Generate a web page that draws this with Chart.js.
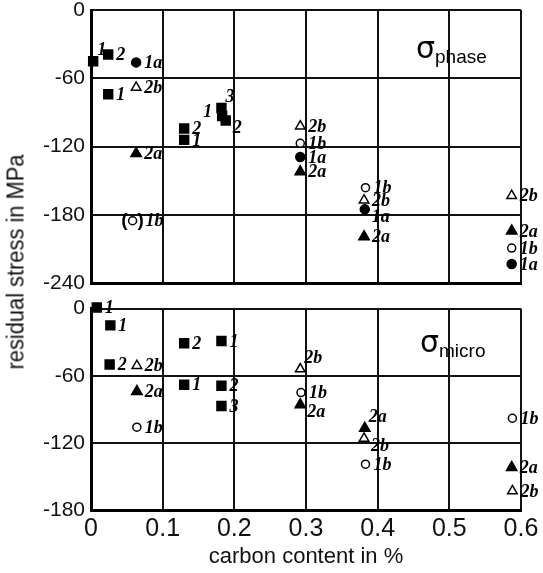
<!DOCTYPE html>
<html lang="en">
<head>
<meta charset="UTF-8">
<title>Residual stress vs carbon content</title>
<script src="https://cdn.jsdelivr.net/npm/chart.js"></script>
<style>
  body { margin: 0; background: #fff; }
  #wrap { position: relative; width: 543px; height: 573px; overflow: hidden; }
  #topChart { position: absolute; left: 0; top: -12px; }
  #botChart { position: absolute; left: 0; top: 290px; }
  #ytitle {
    position: absolute; left: 16px; top: 262px;
    transform: translate(-50%, -50%) rotate(-90deg) scaleX(0.95);
    white-space: nowrap; font: 23px 'Liberation Sans Narrow', 'Liberation Sans', Arial, sans-serif; color: #111;
  }
</style>
</head>
<body>
<div id="wrap">
  <canvas id="topChart" width="543" height="314"></canvas>
  <canvas id="botChart" width="543" height="283"></canvas>
  <div id="ytitle">residual stress in MPa</div>
</div>
<script>
// ---- sigma_phase (upper panel) ----
const phSqX = [0.003, 0.024, 0.024, 0.13, 0.13, 0.182, 0.183, 0.188];
const phSqY = [-45, -39, -74, -104, -114, -86, -93, -97];
const phSqL = ['1', '2', '1', '2', '1', '3', '1', '2'];
const phSqP = ['ur', 'r', 'r', 'r', 'r', 'ur', 'l', 'dr'];

const phDotX = [0.063, 0.292, 0.382, 0.587];
const phDotY = [-46, -129, -175, -223];
const phDotL = ['1a', '1a', '1a', '1a'];
const phDotP = ['r', 'r', 'dr', 'r'];

const phRingX = [0.058, 0.292, 0.383, 0.587];
const phRingY = [-185, -117, -156, -209];
const phRingL = ['1b', '1b', '1b', '1b'];
const phRingP = ['paren', 'r', 'r', 'r'];

const phTriX = [0.063, 0.292, 0.381, 0.587];
const phTriY = [-126, -142, -199, -194];
const phTriL = ['2a', '2a', '2a', '2a'];
const phTriP = ['r', 'r', 'r', 'r'];

const phOTriX = [0.063, 0.292, 0.381, 0.587];
const phOTriY = [-68, -102, -167, -163];
const phOTriL = ['2b', '2b', '2b', '2b'];
const phOTriP = ['r', 'r', 'r', 'r'];

// ---- sigma_micro (lower panel) ----
const miSqX = [0.008, 0.027, 0.026, 0.13, 0.13, 0.182, 0.182, 0.182];
const miSqY = [1, -15, -50, -31, -68, -29, -69, -87];
const miSqL = ['1', '1', '2', '2', '1', '1', '2', '3'];
const miSqP = ['r', 'r', 'r', 'r', 'r', 'r', 'r', 'r'];

const miTriX = [0.064, 0.292, 0.382, 0.587];
const miTriY = [-74, -86, -107, -142];
const miTriL = ['2a', '2a', '2a', '2a'];
const miTriP = ['r', 'dr', 'ur', 'r'];

const miOTriX = [0.064, 0.292, 0.381, 0.588];
const miOTriY = [-51, -54, -116, -163];
const miOTriL = ['2b', '2b', '2b', '2b'];
const miOTriP = ['r', 'ur', 'dr', 'r'];

const miRingX = [0.064, 0.293, 0.383, 0.588];
const miRingY = [-106, -75, -139, -98];
const miRingL = ['1b', '1b', '1b', '1b'];
const miRingP = ['r', 'r', 'r', 'r'];

const xTicks = [0, 0.1, 0.2, 0.3, 0.4, 0.5, 0.6];

const tickFont = "'Liberation Sans Narrow', 'Liberation Sans', Arial, sans-serif";

function pts(xs, ys) {
  return xs.map((x, i) => ({ x: x, y: ys[i] }));
}

function ds(xs, ys, lbls, place, style) {
  const d = {
    data: pts(xs, ys),
    ptLabels: lbls,
    ptPlace: place,
    showLine: false,
    clip: false,
    pointStyle: style,
    pointBorderColor: '#000',
    pointBorderWidth: 1.5,
    pointHoverRadius: 0
  };
  if (style === 'rect') { d.pointRadius = 6.3; d.pointBackgroundColor = '#000'; }
  else if (style === 'dot') { d.pointStyle = 'circle'; d.pointRadius = 4.5; d.pointBackgroundColor = '#000'; }
  else if (style === 'ring') { d.pointStyle = 'circle'; d.pointRadius = 4; d.pointBackgroundColor = '#fff'; }
  else if (style === 'tri') { d.pointStyle = 'triangle'; d.pointRadius = 6; d.pointBackgroundColor = '#000'; }
  else if (style === 'otri') { d.pointStyle = 'triangle'; d.pointRadius = 5.5; d.pointBackgroundColor = '#fff'; }
  return d;
}

// labels next to each marker
const pointLabels = {
  id: 'pointLabels',
  afterDatasetsDraw(chart) {
    const ctx = chart.ctx;
    ctx.save();
    ctx.fillStyle = '#000';
    ctx.textBaseline = 'middle';
    chart.data.datasets.forEach((d, di) => {
      const meta = chart.getDatasetMeta(di);
      meta.data.forEach((el, i) => {
        const t = d.ptLabels[i];
        const p = d.ptPlace[i];
        let dx = 8, dy = 1, align = 'left';
        if (p === 'ur') { dx = 4; dy = -11; }
        if (p === 'dr') { dx = 7; dy = 8; }
        if (p === 'l') { dx = -10; dy = -4; align = 'right'; }
        if (p === 'paren') {
          ctx.font = "bold 19px 'Liberation Sans', Arial, sans-serif";
          ctx.textAlign = 'right';
          ctx.fillText('(', el.x - 5, el.y);
          ctx.textAlign = 'left';
          ctx.fillText(')', el.x + 5, el.y);
          dx = 13;
        }
        ctx.font = "italic bold 18px 'Liberation Serif', serif";
        ctx.textAlign = align;
        ctx.fillText(t, el.x + dx, el.y + dy);
      });
    });
    ctx.restore();
  }
};

// sigma with subscript inside each panel
const panelTitle = {
  id: 'panelTitle',
  afterDraw(chart, args, opts) {
    if (!opts.sub) return;
    const ctx = chart.ctx, a = chart.chartArea;
    ctx.save();
    ctx.fillStyle = '#000';
    ctx.textBaseline = 'alphabetic';
    ctx.textAlign = 'left';
    ctx.font = "30px 'DejaVu Sans', sans-serif";
    const x = a.left + opts.dx, y = a.top + opts.dy;
    ctx.fillText('σ', x, y);
    const w = ctx.measureText('σ').width;
    ctx.font = "19px " + tickFont;
    ctx.fillText(opts.sub, x + w, y + 5);
    ctx.restore();
  }
};

function makeChart(id, sets, yMin, yMax, pad, showX, title) {
  return new Chart(document.getElementById(id), {
    type: 'scatter',
    data: { datasets: sets },
    plugins: [pointLabels, panelTitle],
    options: {
      responsive: false,
      animation: false,
      events: [],
      layout: { padding: pad },
      plugins: {
        legend: { display: false },
        tooltip: { enabled: false },
        panelTitle: title
      },
      scales: {
        x: {
          type: 'linear', min: 0, max: 0.6,
          afterBuildTicks: s => { s.ticks = xTicks.map(v => ({ value: v })); },
          afterFit: s => { s.height = showX ? 63 : 0; },
          grid: { color: '#111', lineWidth: 2, drawTicks: false },
          border: { color: '#000', width: 3 },
          ticks: {
            display: showX, padding: 4, color: '#111',
            font: { family: tickFont, size: 25 },
            callback: v => v === 0 ? '0' : Number(v).toFixed(1)
          },
          title: {
            display: showX, text: 'carbon content in %', color: '#111',
            font: { family: tickFont, size: 22 }, padding: { top: 0, bottom: 3 }
          }
        },
        y: {
          min: yMin, max: yMax,
          afterFit: s => { s.width = 91; },
          grid: { color: '#111', lineWidth: 2, drawTicks: false },
          border: { color: '#000', width: 3 },
          ticks: {
            stepSize: 60, padding: 6, color: '#111',
            font: { family: tickFont, size: 21 },
            callback: v => String(v)
          }
        }
      }
    }
  });
}

makeChart('topChart', [
  ds(phSqX, phSqY, phSqL, phSqP, 'rect'),
  ds(phDotX, phDotY, phDotL, phDotP, 'dot'),
  ds(phRingX, phRingY, phRingL, phRingP, 'ring'),
  ds(phTriX, phTriY, phTriL, phTriP, 'tri'),
  ds(phOTriX, phOTriY, phOTriL, phOTriP, 'otri')
], -240, 0, { left: 0, right: 22, top: 22, bottom: 15 }, false, { sub: 'phase', dx: 325, dy: 48 });

makeChart('botChart', [
  ds(miSqX, miSqY, miSqL, miSqP, 'rect'),
  ds(miTriX, miTriY, miTriL, miTriP, 'tri'),
  ds(miOTriX, miOTriY, miOTriL, miOTriP, 'otri'),
  ds(miRingX, miRingY, miRingL, miRingP, 'ring')
], -180, 0, { left: 0, right: 22, top: 15, bottom: 0 }, true, { sub: 'micro', dx: 329, dy: 43 });
</script>
</body>
</html>
